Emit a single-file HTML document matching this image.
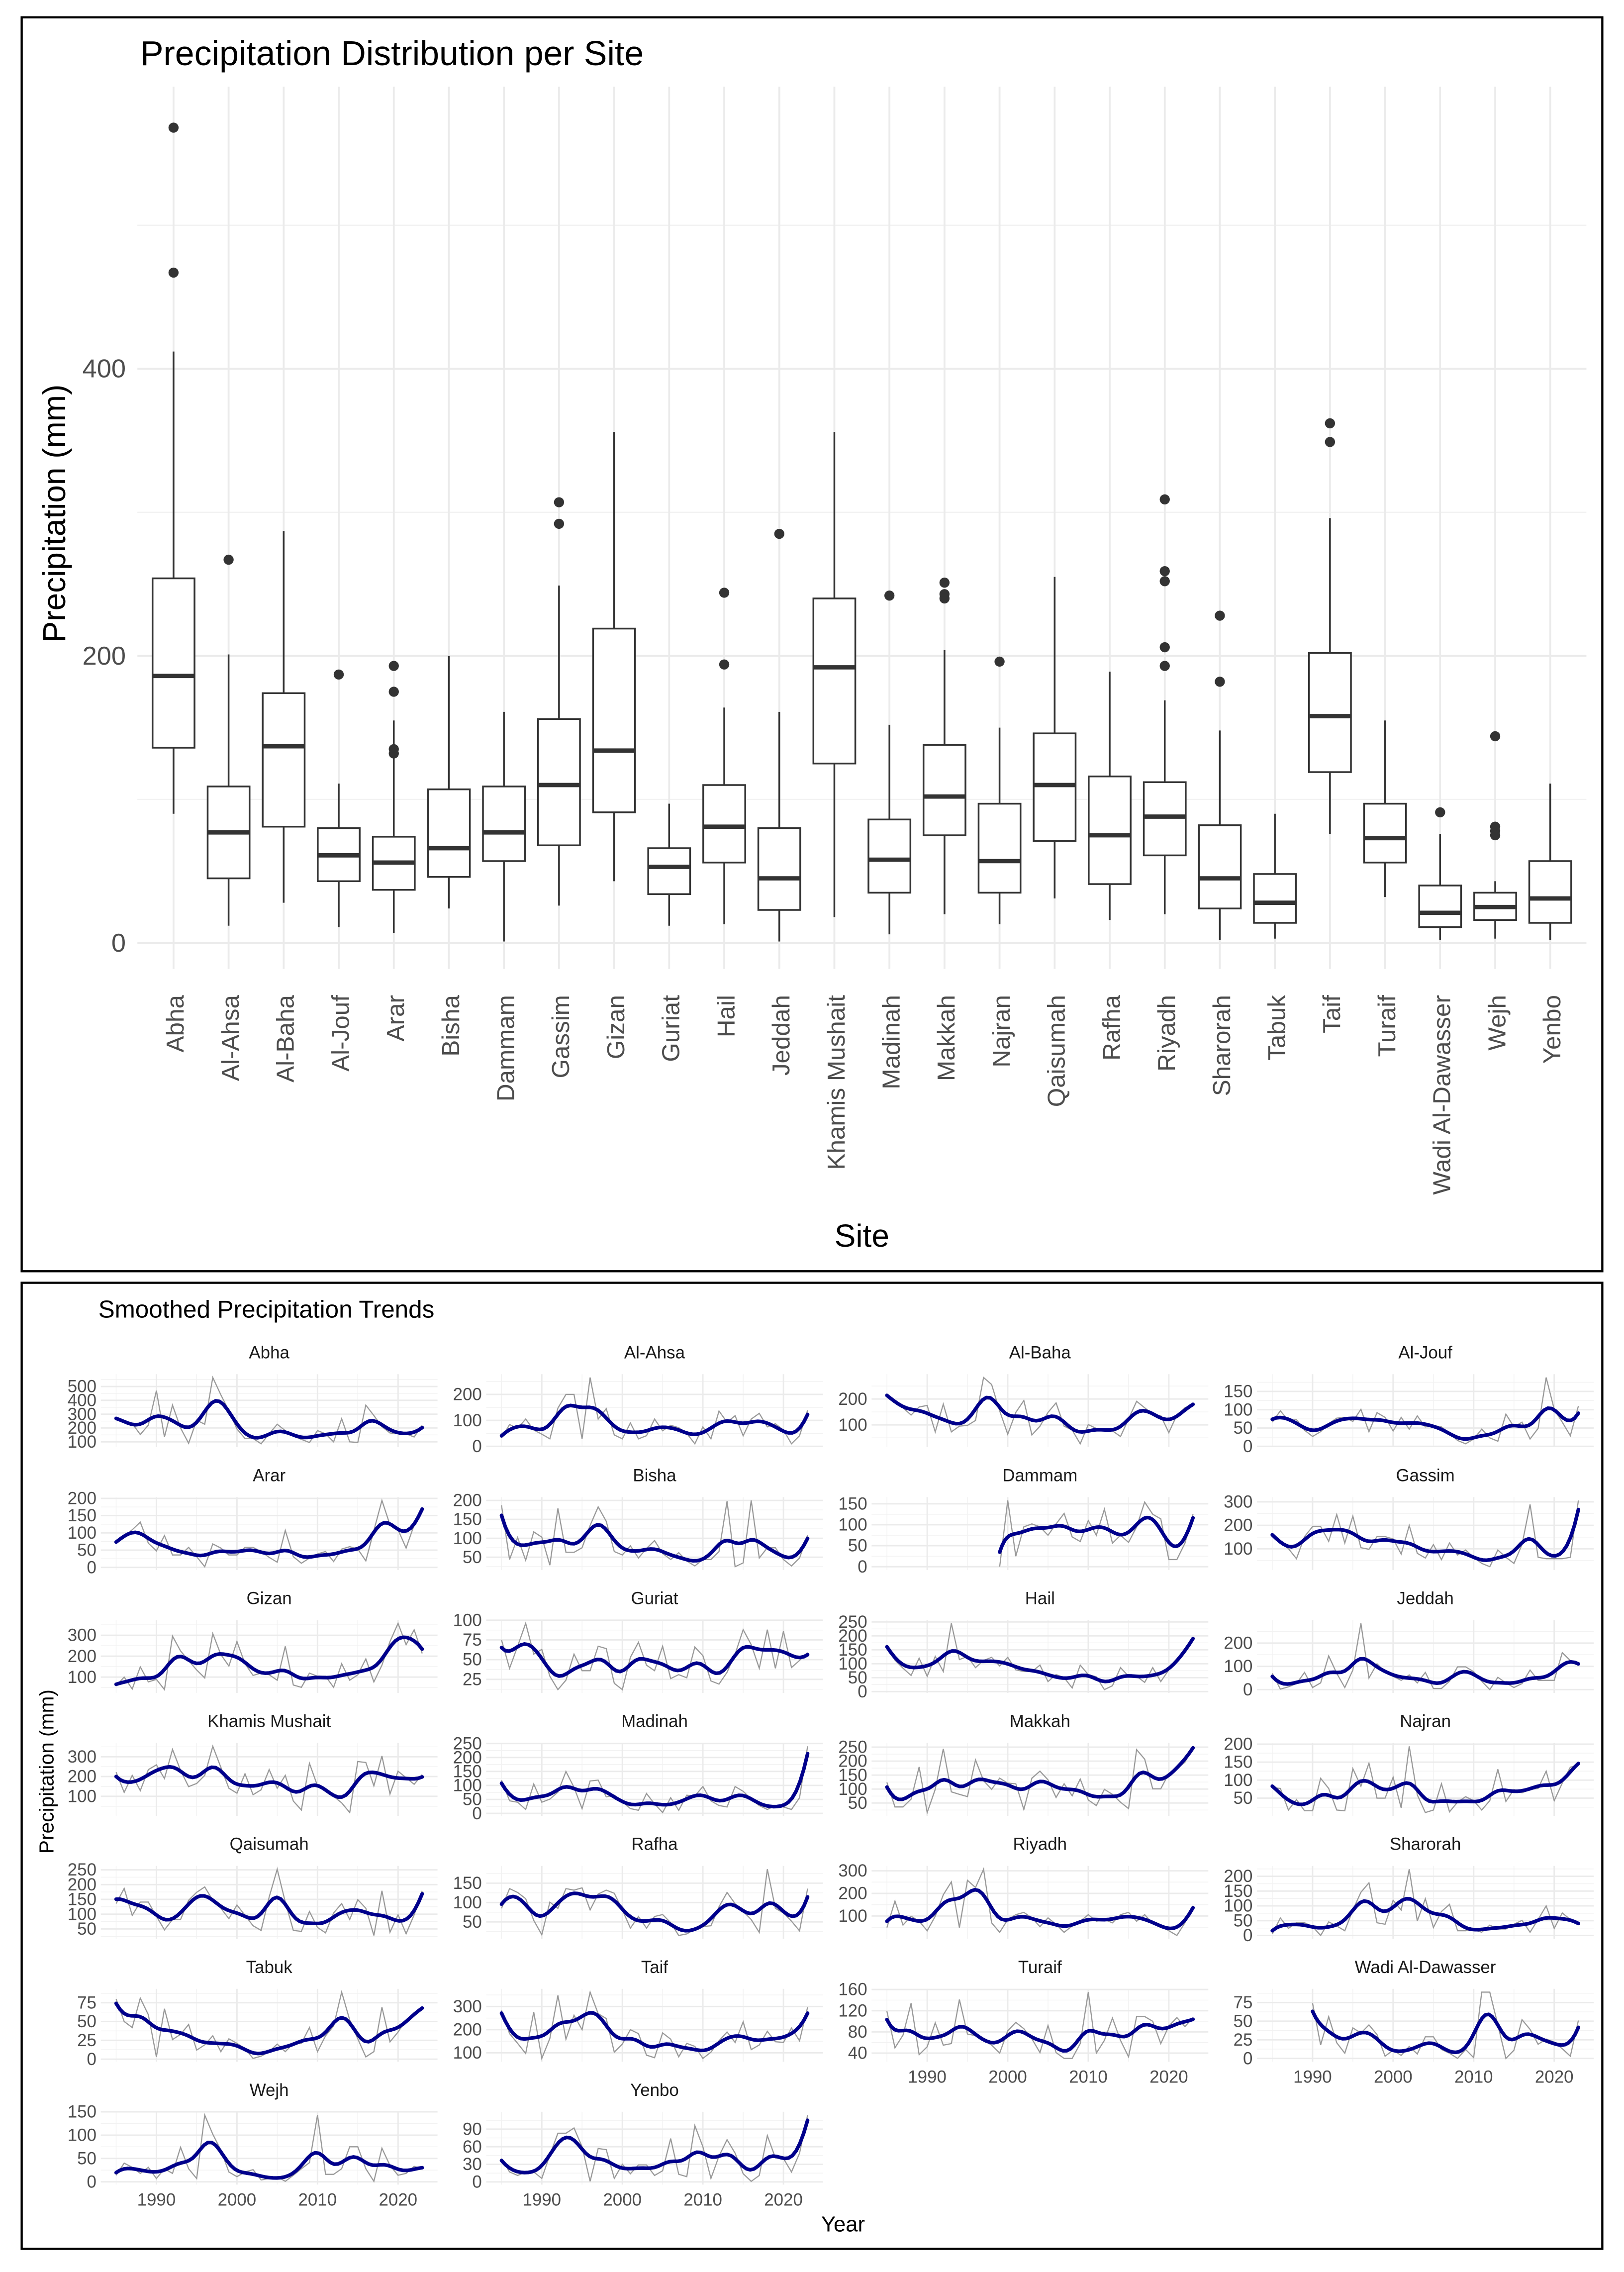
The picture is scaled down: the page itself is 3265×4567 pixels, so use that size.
<!DOCTYPE html>
<html><head><meta charset="utf-8"><title>Precipitation</title>
<style>html,body{margin:0;padding:0;background:#fff}svg{display:block}text{font-family:"Liberation Sans",sans-serif}</style>
</head><body>
<svg id="root" xmlns="http://www.w3.org/2000/svg" width="3265" height="4567" viewBox="0 0 1123 1571" preserveAspectRatio="none">
<rect x="0" y="0" width="1123" height="1571" fill="#fff"/>
<g id="top">
<rect x="15" y="12" width="1093" height="867" fill="none" stroke="#000" stroke-width="1.5"/>
<text x="97" y="45" font-size="24" fill="#000">Precipitation Distribution per Site</text>
<text x="596" y="862" font-size="22" text-anchor="middle" fill="#000">Site</text>
<text transform="translate(45,355) rotate(-90)" font-size="22" text-anchor="middle" fill="#000">Precipitation (mm)</text>
</g>
<g id="bottom">
<rect x="15" y="887" width="1093" height="668" fill="none" stroke="#000" stroke-width="1.5"/>
<text x="68" y="911" font-size="17" fill="#000">Smoothed Precipitation Trends</text>
<text x="583" y="1543" font-size="15" text-anchor="middle" fill="#000">Year</text>
<text transform="translate(37,1225) rotate(-90)" font-size="14" text-anchor="middle" fill="#000">Precipitation (mm)</text>
</g>
</svg>
<script>
// ---------- Boxplot data ----------
const boxSites = ["Abha","Al-Ahsa","Al-Baha","Al-Jouf","Arar","Bisha","Dammam","Gassim","Gizan","Guriat","Hail","Jeddah","Khamis Mushait","Madinah","Makkah","Najran","Qaisumah","Rafha","Riyadh","Sharorah","Tabuk","Taif","Turaif","Wadi Al-Dawasser","Wejh","Yenbo"];
const boxQ1  = [136,45,81,43,37,46,57,68,91,34,56,23,125,35,75,35,71,41,61,24,14,119,56,11,16,14];
const boxMed = [186,77,137,61,56,66,77,110,134,53,81,45,192,58,102,57,110,75,88,45,28,158,73,21,25,31];
const boxQ3  = [254,109,174,80,74,107,109,156,219,66,110,80,240,86,138,97,146,116,112,82,48,202,97,40,35,57];
const boxLo  = [90,12,28,11,7,24,1,26,43,12,13,1,18,6,20,13,31,16,20,2,3,76,32,2,3,2];
const boxHi  = [412,201,287,111,155,200,161,249,356,97,164,161,356,152,204,150,255,189,169,148,90,296,155,76,43,111];
const boxOut = [[568,467],[267],[],[187],[193,175,135,132],[],[],[307,292],[],[],[244,194],[285],[],[242],[251,243,240],[196],[],[],[309,259,252,206,193],[228,182],[],[362,349],[],[91],[144,81,78,75],[]];
const yTicksTop = [0,200,400];

// ---------- Trend data (annual, 1985..2023) ----------
const years = [];
for (let y = 1985; y <= 2023; y++) years.push(y);
const trendSites = ["Abha","Al-Ahsa","Al-Baha","Al-Jouf","Arar","Bisha","Dammam","Gassim","Gizan","Guriat","Hail","Jeddah","Khamis Mushait","Madinah","Makkah","Najran","Qaisumah","Rafha","Riyadh","Sharorah","Tabuk","Taif","Turaif","Wadi Al-Dawasser","Wejh","Yenbo"];
const N = null;
const rainAbha = [267,250,233,153,221, 470,135,365,200,90,256,227,565,440,325, 193,124,124,86,158,227,181,141,118,95, 181,158,100,267,100,95,365,290,210,164, 158,158,135,219];
const rainAlAhsa = [32,84,69,105,63, 47,29,147,200,200,29,265,105,145,44, 29,90,29,41,105,60,81,72,50,10, 75,29,136,93,118,41,105,127,75,87, 63,10,41,139];
const rainAlBaha = [215,188,166,138,169, 175,73,180,73,95,98,117,283,256,154, 64,148,194,61,95,148,185,95,80,27, 101,86,80,77,55,123,191,166,141,135, 70,138,166,175];
const rainAlJouf = [66,97,70,73,44, 27,40,62,77,79,68,101,40,92,79, 42,79,47,83,53,57,53,36,16,7, 20,47,23,14,88,53,66,20,49,188, 101,66,29,110];
const rainArar = [73,90,109,131,70, 48,92,36,36,58,31,2,68,56,36, 36,58,58,46,29,15,107,31,12,27, 39,46,17,53,60,53,19,107,194,123, 109,56,123,174];
const rainBisha = [187,44,102,42,117, 103,29,179,63,63,75,134,183,145,65, 56,80,48,73,94,60,44,62,40,27, 44,44,65,198,25,35,200,48,75,75, 44,27,48,109];
const rainDammam = [N,N,N,N,N, N,N,N,N,N,N,N,N,N,0, 158,25,95,102,95,75,102,127,71,60, 110,75,137,56,75,58,95,154,125,114, 17,17,56,125];
const rainGassim = [162,125,101,58,152, 195,195,132,246,125,239,105,98,152,152, 142,78,199,81,61,118,54,125,74,95, 64,38,24,95,64,38,118,289,64,58, 58,58,64,306];
const rainGizan = [58,100,43,149,77, 89,40,296,225,179,134,96,308,208,153, 270,164,108,119,111,85,247,62,51,119, 104,104,51,164,85,111,187,77,157,270, 357,255,326,213];
const rainGuriat = [75,39,67,96,57, 63,29,12,24,57,36,36,67,64,20, 12,53,72,43,36,67,26,31,27,66, 55,23,19,34,57,88,69,39,88,39, 86,40,49,59];
const rainHail = [166,113,84,58,120, 55,126,72,245,115,126,86,112,123,92, 123,78,72,72,95,36,61,50,13,95, 61,53,7,21,86,55,55,33,86,36, 78,106,140,194];
const rainJeddah = [70,2,12,26,74, 9,29,145,70,9,84,285,50,111,77, 57,40,63,29,74,5,5,36,98,98, 77,36,0,53,29,9,26,84,40,40, 40,159,125,104];
const rainKhamis = [222,120,206,129,235, 259,190,337,231,149,165,206,353,247,141, 116,214,108,133,235,141,206,76,31,267, 153,133,100,67,18,276,271,153,304,112, 227,194,161,210];
const rainMadinah = [119,45,40,14,105, 40,51,76,150,93,17,116,119,59,65, 42,17,11,71,34,3,56,11,65,62, 96,45,28,23,96,79,51,28,14,28, 23,14,56,240];
const rainMakkah = [124,36,36,64,179, 16,99,244,90,81,73,204,130,99,139, 121,119,27,139,164,133,70,119,76,136, 61,41,99,81,53,30,241,207,101,101, 156,173,196,253];
const rainNajran = [79,77,17,46,15, 15,105,77,17,15,132,83,147,50,50, 108,23,194,59,10,17,90,12,39,54, 43,17,43,130,41,74,65,74,77,125, 43,92,136,141];
const rainQaisumah = [136,187,96,141,141, 93,47,82,82,147,174,192,147,120,85, 131,96,61,45,158,252,141,45,42,109, 55,37,104,136,82,149,120,28,179,39, 98,34,98,179];
const rainRafha = [85,136,126,110,54, 17,101,85,136,132,138,81,122,132,124, 81,34,64,34,64,69,48,15,19,31, 38,40,89,126,97,77,56,23,186,85, 73,52,27,136];
const rainRiyadh = [49,166,60,99,77, 35,99,194,251,49,258,226,307,70,28, 84,106,116,92,53,92,63,28,56,77, 106,77,84,70,106,116,77,106,67,56, 35,14,70,145];
const rainSharorah = [5,59,24,43,43, 30,0,46,32,16,86,146,178,43,38, 119,86,224,49,124,27,81,105,16,16, 19,11,35,22,22,38,51,11,54,100, 24,76,54,38];
const rainTabuk = [80,50,42,81,59, 3,67,26,33,46,12,19,31,10,27, 21,14,1,4,10,20,10,21,21,42, 10,31,44,89,52,27,3,10,69,23, 36,52,61,67];
const rainTaif = [283,183,141,97,276, 76,162,348,159,262,200,362,269,248,103, 138,200,183,90,79,186,159,83,141,128, 76,103,152,190,145,234,114,134,193,148, 145,207,152,297];
const rainTuraif = [119,50,74,134,37, 52,97,55,58,141,76,73,65,55,40, 82,98,86,67,41,92,41,30,30,58, 155,40,64,106,64,33,109,109,100,58, 91,107,90,107];
const rainWadi = [N,N,N,N,N, 74,18,56,21,7,41,34,45,32,3, 11,4,16,6,29,29,12,7,0,12, 1,89,89,45,0,11,52,39,19,26, 22,13,3,51];
const rainWejh = [14,40,31,18,31, 7,28,18,74,28,7,143,102,68,21, 11,21,26,4,7,11,1,14,28,41, 143,16,16,28,75,75,28,1,72,35, 14,18,33,28];
const rainYenbo = [40,17,11,17,17, 6,46,83,83,92,60,1,57,55,6, 30,14,29,29,11,19,74,13,9,96, 60,6,44,72,49,14,1,11,79,41, 40,17,49,114];
const trendSeries = [rainAbha,rainAlAhsa,rainAlBaha,rainAlJouf,rainArar,rainBisha,rainDammam,rainGassim,rainGizan,rainGuriat,rainHail,rainJeddah,rainKhamis,rainMadinah,rainMakkah,rainNajran,rainQaisumah,rainRafha,rainRiyadh,rainSharorah,rainTabuk,rainTaif,rainTuraif,rainWadi,rainWejh,rainYenbo];
const trendTicks = [[100,200,300,400,500],[0,100,200],[100,200],[0,50,100,150],[0,50,100,150,200],[50,100,150,200],[0,50,100,150],[100,200,300],[100,200,300],[25,50,75,100],[0,50,100,150,200,250],[0,100,200],[100,200,300],[0,50,100,150,200,250],[50,100,150,200,250],[50,100,150,200],[50,100,150,200,250],[50,100,150],[100,200,300],[0,50,100,150,200],[0,25,50,75],[100,200,300],[40,80,120,160],[0,25,50,75],[0,50,100,150],[0,30,60,90]];
const xTickYears = [1990,2000,2010,2020];

const NS = "http://www.w3.org/2000/svg";
const root = document.getElementById('root');
function mk(tag, attrs, parent) {
  const e = document.createElementNS(NS, tag);
  for (const k in attrs) e.setAttribute(k, attrs[k]);
  (parent || root).appendChild(e);
  return e;
}

// ---------- Boxplot ----------
(function(){
  const g = document.getElementById('top');
  const yS = v => 652 - v * 0.9925;
  const xS = i => 120 + 38.08 * i;
  const L = 95, R = 1097, T = 60, B = 670;
  const grid = mk('g', {}, g);
  
  
  for (let v = 100; v <= 500; v += 200) mk('line', {x1:L, x2:R, y1:yS(v), y2:yS(v), stroke:'#f2f2f2', 'stroke-width':0.8}, grid);
  yTicksTop.forEach(v => {
    mk('line', {x1:L, x2:R, y1:yS(v), y2:yS(v), stroke:'#ebebeb', 'stroke-width':1.3}, grid);
    const t = mk('text', {x:87, y:yS(v)+6, 'font-size':18, 'text-anchor':'end', fill:'#4d4d4d'}, g);
    t.textContent = v;
    
    
  });
  boxSites.forEach((s, i) => mk('line', {x1:xS(i), x2:xS(i), y1:T, y2:B, stroke:'#ebebeb', 'stroke-width':1.3}, grid));
  boxSites.forEach((s, i) => {
    const bg = mk('g', {}, g);
    
    
    const x = xS(i), w = 14.5;
    mk('line', {x1:x, x2:x, y1:yS(boxHi[i]), y2:yS(boxQ3[i]), stroke:'#333', 'stroke-width':1.2}, bg);
    mk('line', {x1:x, x2:x, y1:yS(boxQ1[i]), y2:yS(boxLo[i]), stroke:'#333', 'stroke-width':1.2}, bg);
    mk('rect', {x:x-w, y:yS(boxQ3[i]), width:2*w, height:yS(boxQ1[i])-yS(boxQ3[i]), fill:'#fff', stroke:'#333', 'stroke-width':1.2}, bg);
    mk('line', {x1:x-w, x2:x+w, y1:yS(boxMed[i]), y2:yS(boxMed[i]), stroke:'#333', 'stroke-width':3}, bg);
    boxOut[i].forEach(v => {
      const c = mk('circle', {cx:x, cy:yS(v), r:3.5, fill:'#333'}, bg);
      
      
    });
    const t = mk('text', {transform:'translate(' + (x+7) + ',688) rotate(-90)', 'font-size':17, 'text-anchor':'end', fill:'#4d4d4d'}, g);
    t.textContent = s;
    
    
  });
})();

// ---------- Facets ----------
function smooth(xs, ys, at, sigma) {
  let sw=0, sx=0, sy=0, sxx=0, sxy=0;
  for (let i = 0; i < xs.length; i++) {
    const d = (xs[i]-at)/sigma, w = Math.exp(-0.5*d*d);
    sw+=w; sx+=w*xs[i]; sy+=w*ys[i]; sxx+=w*xs[i]*xs[i]; sxy+=w*xs[i]*ys[i];
  }
  const mx = sx/sw, my = sy/sw, vx = sxx/sw - mx*mx;
  if (vx < 1e-9) return my;
  const b = (sxy/sw - mx*my)/vx;
  return my + b*(at-mx);
}
(function(){
  const g = document.getElementById('bottom');
  const colOff = 266.5, rowOff = 85;
  const yr0 = 1985, yr1 = 2023, pxYr = 5.57;
  trendSites.forEach((s, k) => {
    const col = k % 4, row = Math.floor(k / 4);
    const fg = mk('g', {}, g);
    
    
    const x0 = 80.3 + col*colOff;
    const xS = y => x0 + (y - yr0)*pxYr;
    const pL = xS(yr0 - 1.9), pR = xS(yr1 + 1.9);
    const pT = 950.2 + row*rowOff, pH = 50.4, pB = pT + pH;
    const raw = trendSeries[k];
    const xs = [], ys = [];
    raw.forEach((v, i) => { if (v !== null) { xs.push(years[i]); ys.push(v); } });
    const mn = Math.min(...ys), mx = Math.max(...ys), pad = (mx - mn)*0.05;
    const lo = mn - pad, hi = mx + pad;
    const yS = v => pB - (v - lo)/(hi - lo)*pH;
    const ticks = trendTicks[k];
    const step = ticks[1] - ticks[0];
    for (let v = ticks[0] - step/2; v <= hi; v += step) if (v >= lo) mk('line', {x1:pL, x2:pR, y1:yS(v), y2:yS(v), stroke:'#f2f2f2', 'stroke-width':0.5}, fg);
    [1985,1995,2005,2015].forEach(y => mk('line', {x1:xS(y), x2:xS(y), y1:pT, y2:pB, stroke:'#f2f2f2', 'stroke-width':0.5}, fg));
    ticks.forEach(v => {
      mk('line', {x1:pL, x2:pR, y1:yS(v), y2:yS(v), stroke:'#ebebeb', 'stroke-width':1}, fg);
      const t = mk('text', {x:pL-3, y:yS(v)+4, 'font-size':12, 'text-anchor':'end', fill:'#4d4d4d'}, fg);
      t.textContent = v;
      
      
    });
    xTickYears.forEach(y => mk('line', {x1:xS(y), x2:xS(y), y1:pT, y2:pB, stroke:'#ebebeb', 'stroke-width':1}, fg));
    const tt = mk('text', {x:(pL+pR)/2, y:pT-11, 'font-size':12, 'text-anchor':'middle', fill:'#1a1a1a'}, fg);
    tt.textContent = s;
    
    
    const rawPts = xs.map((y, i) => xS(y).toFixed(2) + ',' + yS(ys[i]).toFixed(2)).join(' ');
    const rl = mk('polyline', {points:rawPts, fill:'none', stroke:'#999', 'stroke-width':0.8}, fg);
    
    
    const sp = [];
    const a = xs[0], b = xs[xs.length-1];
    for (let t = 0; t <= 80; t++) {
      const y = a + (b - a)*t/80;
      sp.push(xS(y).toFixed(2) + ',' + yS(smooth(xs, ys, y, 1.3)).toFixed(2));
    }
    const sl = mk('polyline', {points:sp.join(' '), fill:'none', stroke:'#00008B', 'stroke-width':2.5, 'stroke-linejoin':'round', 'stroke-linecap':'round'}, fg);
    
    
    const lastRow = (col < 2) ? 6 : 5;
    if (row === lastRow) {
      xTickYears.forEach(y => {
        const t = mk('text', {x:xS(y), y:pB+14.5, 'font-size':12, 'text-anchor':'middle', fill:'#4d4d4d'}, fg);
        t.textContent = y;
        
        
      });
    }
  });
})();
</script>
</body></html>
